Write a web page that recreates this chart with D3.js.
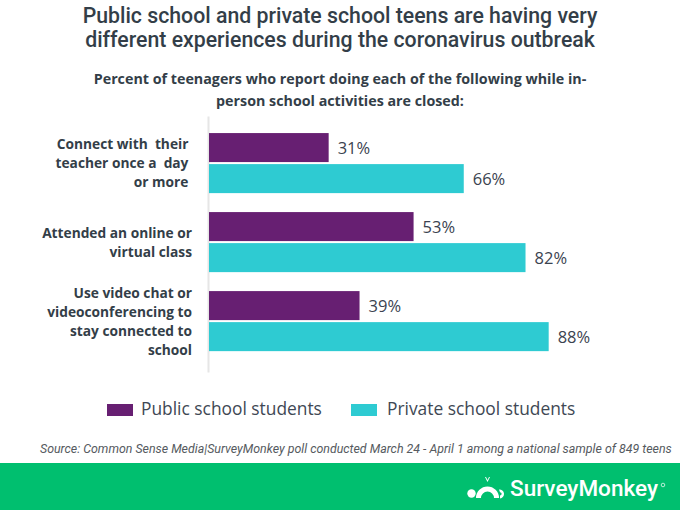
<!DOCTYPE html>
<html>
<head>
<meta charset="utf-8">
<script src="https://cdn.jsdelivr.net/npm/d3@7"></script>
<style>
  html, body { margin: 0; padding: 0; background: #fff; }
  svg { display: block; }
  text { white-space: pre; }
</style>
</head>
<body>
<svg id="chart" width="680" height="510"></svg>
<script>
// ---- data ----
const titleLines = [
  "Public school and private school teens are having very",
  "different experiences during the coronavirus outbreak"
];
const subtitleLines = [
  "Percent of teenagers who report doing each of the following while in-",
  "person school activities are closed:"
];
const categories = [
  "Connect with  their \nteacher once a  day \nor more ",
  "Attended an online or\nvirtual class",
  "Use video chat or\nvideoconferencing to\nstay connected to\nschool"
];
const seriesNames = ["Public school students", "Private school students"];
const publicValues = [31, 53, 39];
const privateValues = [66, 82, 88];
const seriesColors = ["#671f72", "#2ecbd2"];
const sourceText = "Source: Common Sense Media|SurveyMonkey poll conducted March 24 - April 1 among a national sample of 849 teens";
const brandText = "SurveyMonkey";

// ---- setup ----
const svg = d3.select("#chart");
const textColor = "#333e48";

function fitWidth(sel, target) {
  sel.each(function () {
    const fs = parseFloat(d3.select(this).style("font-size"));
    const w = this.getComputedTextLength();
    if (w > 0) d3.select(this).style("font-size", (fs * target / w) + "px");
  });
}

// Title
const title = svg.append("g");
title.selectAll("text").data(titleLines).join("text")
  .attr("x", 340).attr("y", (d, i) => 23 + i * 24)
  .attr("text-anchor", "middle")
  .style("font-family", "Roboto, sans-serif")
  .style("font-weight", 500)
  .style("font-size", "20px")
  .style("fill", textColor)
  .text(d => d);
fitWidth(title.selectAll("text").filter((d, i) => i === 0), 515);
title.selectAll("text").style("font-size", title.select("text").style("font-size"));

// Subtitle
const sub = svg.append("g");
sub.selectAll("text").data(subtitleLines).join("text")
  .attr("x", 340).attr("y", (d, i) => 84 + i * 22)
  .attr("text-anchor", "middle")
  .style("font-family", "'Open Sans', sans-serif")
  .style("font-weight", 700)
  .style("font-size", "14px")
  .style("fill", textColor)
  .text(d => d);
fitWidth(sub.selectAll("text").filter((d, i) => i === 0), 493);
sub.selectAll("text").style("font-size", sub.select("text").style("font-size"));

// Scales
const x = d3.scaleLinear().domain([0, 100]).range([209, 595]);
const y = d3.scaleBand().domain(d3.range(categories.length))
  .range([116, 372]).paddingInner(0.24).paddingOuter(0.24).align(0.45);
const ySub = d3.scaleBand().domain([0, 1]).range([0, y.bandwidth()]).paddingInner(0.065);

// Axis line (left)
const axis = svg.append("g").attr("transform", "translate(208,0)")
  .call(d3.axisLeft(y).tickSize(0).tickFormat(""));
axis.select(".domain").attr("stroke", "#e6e6e6").attr("stroke-width", 2);

// Bars
const rows = categories.map((c, i) => ({ i, c, vals: [publicValues[i], privateValues[i]] }));
const groups = svg.append("g").selectAll("g").data(rows).join("g")
  .attr("transform", d => `translate(0,${y(d.i)})`);

groups.selectAll("rect").data(d => d.vals.map((v, s) => ({ v, s }))).join("rect")
  .attr("x", x(0))
  .attr("y", d => ySub(d.s))
  .attr("width", d => x(d.v) - x(0))
  .attr("height", ySub.bandwidth())
  .attr("fill", d => seriesColors[d.s]);

groups.selectAll("text.val").data(d => d.vals.map((v, s) => ({ v, s }))).join("text")
  .attr("class", "val")
  .attr("x", d => x(d.v) + 9)
  .attr("y", d => ySub(d.s) + ySub.bandwidth() / 2 + 6)
  .style("font-family", "'Open Sans', sans-serif")
  .style("font-size", "16.5px")
  .style("fill", "#3b4350")
  .text(d => d.v + "%");

// Category labels
const catG = svg.append("g");
rows.forEach(r => {
  const lines = r.c.split("\n");
  const cy = y(r.i) + y.bandwidth() / 2;
  catG.append("g").selectAll("text").data(lines).join("text")
    .attr("class", "cat")
    .attr("x", 192)
    .attr("y", (d, k) => cy + 19 * (k - (lines.length - 1) / 2) + 5)
    .attr("text-anchor", "end")
    .style("font-family", "'Open Sans', sans-serif")
    .style("font-weight", 700)
    .style("font-size", "14px")
    .style("fill", textColor)
    .text(d => d);
});
{
  const ref = catG.selectAll("text.cat").filter(d => d === "Attended an online or");
  fitWidth(ref, 150);
  catG.selectAll("text.cat").style("font-size", ref.style("font-size"));
}

// Legend
const legendX = [107, 351];
const leg = svg.append("g").selectAll("g").data(seriesNames).join("g")
  .attr("transform", (d, i) => `translate(${legendX[i]},404)`);
leg.append("rect").attr("width", 26).attr("height", 12).attr("fill", (d, i) => seriesColors[i]);
leg.append("text").attr("x", (d, i) => i === 0 ? 34 : 36).attr("y", 10.5)
  .style("font-family", "'Open Sans', sans-serif")
  .style("font-size", "16px")
  .style("fill", "#404854")
  .text(d => d);
fitWidth(leg.selectAll("text").filter(d => d === seriesNames[0]), 181);
leg.selectAll("text").style("font-size", leg.select("text").style("font-size"));

// Source
const src = svg.append("text")
  .attr("x", 40).attr("y", 453)
  .style("font-family", "Roboto, sans-serif")
  .style("font-style", "italic")
  .style("font-size", "11px")
  .style("fill", "#555a60")
  .text(sourceText);
fitWidth(src, 632);

// Footer band
svg.append("rect").attr("x", 0).attr("y", 463).attr("width", 680).attr("height", 47).attr("fill", "#00bf6f");

// Logo icon (approximate monkey mark)
const logo = svg.append("g").attr("fill", "#fff").attr("stroke", "none");
logo.append("path")
  .attr("d", "M476,498 A11.5,11.5 0 0 1 499,498 L494,498 A6.5,6.5 0 0 0 481,498 Z");
logo.append("circle").attr("cx", 471.5).attr("cy", 493.5).attr("r", 4.2);
logo.append("path")
  .attr("d", "M499,489.5 A4.5,4.5 0 1 1 500,498.5 L500,495.5 A1.6,1.6 0 1 0 500,492.2 Z");
logo.append("path")
  .attr("d", "M485,477 L487.5,482 L490,477 L489,477 L487.5,480 L486,477 Z");
const brand = svg.append("text")
  .attr("x", 510).attr("y", 496)
  .style("font-family", "Roboto, sans-serif")
  .style("font-weight", 500)
  .style("font-size", "20px")
  .style("fill", "#fff")
  .text(brandText);
fitWidth(brand, 148);
svg.append("circle").attr("cx", 663).attr("cy", 485).attr("r", 1.8)
  .attr("fill", "none").attr("stroke", "#fff").attr("stroke-width", 0.7);
</script>
</body>
</html>
